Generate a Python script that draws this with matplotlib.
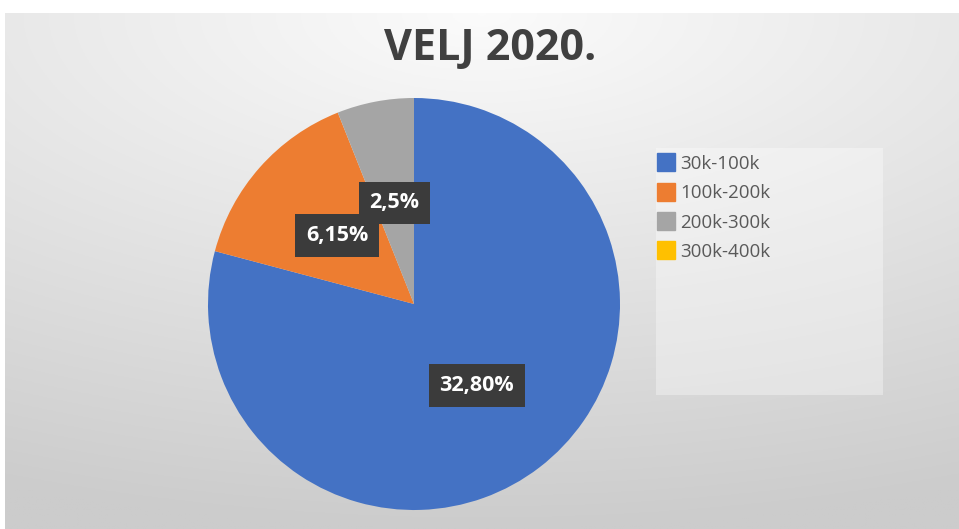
import numpy as np
import matplotlib
matplotlib.use("Agg")
import matplotlib.pyplot as plt
from matplotlib.patches import Rectangle

categories = ["30k-100k", "100k-200k", "200k-300k", "300k-400k"]
values = [32.80, 6.15, 2.5, 0.0]
value_labels = ["32,80%", "6,15%", "2,5%", ""]
colors = ["#4472C4", "#ED7D31", "#A5A5A5", "#FFC000"]
title = "VELJ 2020."

W, H = 959, 529
fig = plt.figure(figsize=(W / 100, H / 100), dpi=100)
fig.patch.set_facecolor("white")

# background gradient for chart area
bg = fig.add_axes([5 / W, 0, 1 - 5 / W, 1 - 13 / H])
bg.set_axis_off()
ny, nx = 300, 500
yy, xx = np.mgrid[0:1:ny * 1j, 0:1:nx * 1j]
d = np.sqrt(((xx - 0.5) * 0.8) ** 2 + (yy * 1.0) ** 2)
d = np.clip(d / 1.0, 0, 1)
top = np.array([0.985, 0.985, 0.985])
bot = np.array([0.80, 0.80, 0.80])
img = top[None, None, :] * (1 - d[..., None]) + bot[None, None, :] * d[..., None]
bg.imshow(img, aspect="auto", extent=[0, 1, 1, 0])
bg.set_xlim(0, 1)
bg.set_ylim(1, 0)

# legend background panel
fig.patches.append(Rectangle((656 / W, 1 - 395 / H), (883 - 656) / W, (395 - 148) / H,
                             transform=fig.transFigure, facecolor="white", alpha=0.35,
                             edgecolor="none", zorder=1))

# pie
cx, cy, R = 414, 304, 206
ax = fig.add_axes([(cx - R) / W, (H - cy - R) / H, 2 * R / W, 2 * R / H])
wedges, texts = ax.pie(values, colors=colors, startangle=90, counterclock=False,
                       labels=value_labels, labeldistance=0.5,
                       wedgeprops=dict(linewidth=0))
ax.set_xlim(-1, 1)
ax.set_ylim(-1, 1)
ax.set_aspect("equal")
ax.set_axis_off()
for i, t in enumerate(texts):
    t.set_ha("center")
    t.set_va("center")
    t.set_color("white")
    t.set_fontsize(15.5)
    t.set_fontweight("bold")
    t.set_fontfamily("Open Sans")
    if value_labels[i]:
        t.set_bbox(dict(boxstyle="square,pad=0.5", facecolor="#3b3b3b", edgecolor="none"))

# legend
handles = [plt.Line2D([0], [0], marker="s", linestyle="none", markersize=13,
                      markerfacecolor=c, markeredgecolor=c) for c in colors]
leg = fig.legend(handles, categories, loc="upper left",
                 bbox_to_anchor=(657 / W, 1 - 155 / H), frameon=False,
                 borderpad=0, borderaxespad=0,
                 handletextpad=0.25, labelspacing=0.6, handlelength=1.0,
                 prop=dict(family="Open Sans", size=13.5))
for t in leg.get_texts():
    t.set_color("#595959")

fig.text(490 / W, 1 - 60 / H, title, ha="center", va="baseline",
         fontsize=31, fontweight="bold", color="#404040",
         family="Open Sans")

fig.savefig("out.png", dpi=100)
